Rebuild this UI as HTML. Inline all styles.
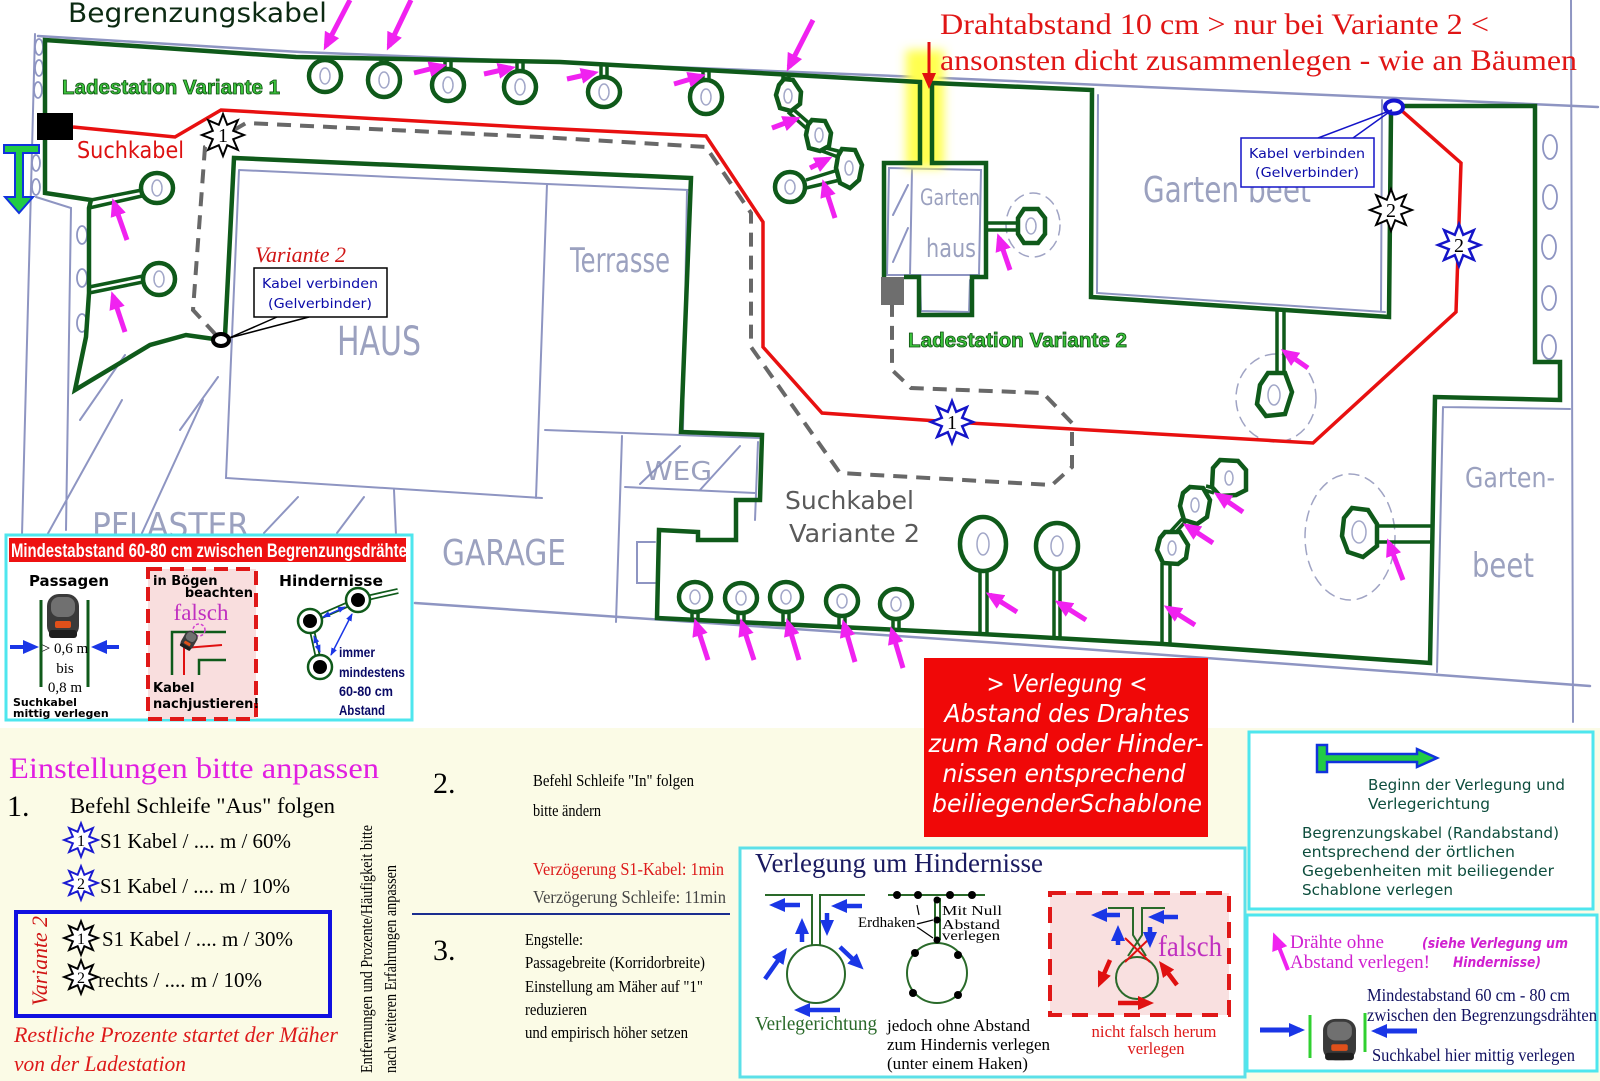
<!DOCTYPE html>
<html><head><meta charset="utf-8">
<style>
html,body{margin:0;padding:0;background:#fff;width:1600px;height:1081px;overflow:hidden}
svg{display:block}
</style></head><body>
<svg xmlns="http://www.w3.org/2000/svg" width="1600" height="1081" viewBox="0 0 1600 1081">
<defs>
<path id="st" d="M0,-21 L4.2,-10.2 L14.85,-14.85 L10.2,-4.2 L21,0 L10.2,4.2 L14.85,14.85 L4.2,10.2 L0,21 L-4.2,10.2 L-14.85,14.85 L-10.2,4.2 L-21,0 L-10.2,-4.2 L-14.85,-14.85 L-4.2,-10.2 Z"/>
<marker id="am" viewBox="0 0 18 16" markerWidth="18" markerHeight="16" refX="13" refY="8" orient="auto" markerUnits="userSpaceOnUse"><path d="M0,0 L18,8 L0,16 z" fill="#f022f0"/></marker>
<marker id="ab" viewBox="0 0 16 14" markerWidth="16" markerHeight="14" refX="11" refY="7" orient="auto" markerUnits="userSpaceOnUse"><path d="M0,0 L16,7 L0,14 z" fill="#1a36e6"/></marker>
<marker id="ar" viewBox="0 0 16 14" markerWidth="16" markerHeight="14" refX="11" refY="7" orient="auto" markerUnits="userSpaceOnUse"><path d="M0,0 L16,7 L0,14 z" fill="#e01010"/></marker>
<marker id="as" viewBox="0 0 8 6" markerWidth="8" markerHeight="6" refX="7" refY="3" orient="auto-start-reverse" markerUnits="userSpaceOnUse"><path d="M0,0 L8,3 L0,6 z" fill="#1a36e6"/></marker>
<g id="mw">
<rect x="1" y="2" width="32" height="44" rx="12" fill="#3a3a3a"/>
<rect x="5" y="5" width="24" height="20" rx="8" fill="#707070"/>
<rect x="9" y="29" width="16" height="7" rx="2" fill="#e0501a"/>
<rect x="3" y="38" width="28" height="8" rx="3" fill="#1e1e1e"/>
</g>
<filter id="bl" x="-50%" y="-20%" width="200%" height="140%"><feGaussianBlur stdDeviation="5"/></filter>
<clipPath id="hc"><rect x="9" y="538" width="397" height="24"/></clipPath>
</defs>

<rect x="0" y="0" width="1600" height="1081" fill="#fff"/>
<rect x="0" y="728" width="1600" height="353" fill="#fbfbe6"/>

<!-- pencil sketch -->
<g fill="none" stroke="#8e95c2" stroke-width="2" stroke-linecap="round">
<path d="M38,36 L300,52 L920,77 L1598,107" stroke-width="2.5"/>
<path d="M35,34 L22,535"/>
<path d="M1571,0 L1573,722"/>
<path d="M415,603 L1000,643 L1590,686" stroke-width="2.5"/>
<path d="M36,197 L71,208 L66,530"/>
<path d="M239,170 L547,184 L689,190 M239,170 L226,478 L542,498 M547,184 L536,498 M687,190 L683,430 M545,430 L760,438"/>
<path d="M622,436 L616,622 M625,487 L755,493 M640,484 L680,446 M700,490 L740,446 M758,442 L755,520"/>
<path d="M655,542 L637,542 L637,583 L655,583"/>
<path d="M394,490 L396,535"/>
<path d="M46,537 L122,400 M142,533 L203,400 M264,533 L298,497 M337,533 L364,497 M180,430 L218,377 M80,420 L125,355"/>
<path d="M889,168 L981,170 L979,275 L887,275 Z M912,170 L910,275 M893,215 L908,185 M893,262 L908,228 M920,278 L921,311 L969,312 L970,280"/>
<path d="M1098,95 L1097,293 L1385,312 M1382,100 L1381,310"/>
<path d="M1443,407 L1570,409 M1443,407 L1437,672"/>
<g stroke-width="1.5" stroke-dasharray="10 7" stroke="#a0a4c4">
<ellipse cx="1033" cy="225" rx="27" ry="32"/>
<ellipse cx="1276" cy="398" rx="40" ry="44"/>
<ellipse cx="1350" cy="537" rx="45" ry="63"/>
</g>
<g stroke-width="1.8">
<ellipse cx="1550" cy="147" rx="7" ry="12"/><ellipse cx="1550" cy="197" rx="7" ry="12"/><ellipse cx="1549" cy="247" rx="7" ry="12"/><ellipse cx="1549" cy="298" rx="7" ry="12"/><ellipse cx="1549" cy="347" rx="7" ry="12"/>
<ellipse cx="39" cy="47" rx="4" ry="8"/><ellipse cx="39" cy="68" rx="4" ry="8"/><ellipse cx="38" cy="90" rx="4" ry="8"/><ellipse cx="36" cy="163" rx="4" ry="8"/><ellipse cx="36" cy="187" rx="4" ry="8"/>
<ellipse cx="82" cy="235" rx="5" ry="9"/><ellipse cx="82" cy="278" rx="5" ry="9"/><ellipse cx="82" cy="323" rx="5" ry="9"/>
</g>
</g>

<!-- handwritten labels -->
<g font-family="DejaVu Sans, Liberation Sans, sans-serif" fill="#8a90b4" fill-opacity="0.85" font-weight="normal">
<text x="337" y="355" font-size="40" textLength="84" lengthAdjust="spacingAndGlyphs">HAUS</text>
<text x="570" y="272" font-size="34" textLength="100" lengthAdjust="spacingAndGlyphs">Terrasse</text>
<text x="920" y="205" font-size="22" textLength="60" lengthAdjust="spacingAndGlyphs">Garten</text>
<text x="926" y="257" font-size="26" textLength="50" lengthAdjust="spacingAndGlyphs">haus</text>
<text x="1143" y="202" font-size="36" textLength="168" lengthAdjust="spacingAndGlyphs">Garten beet</text>
<text x="1465" y="487" font-size="28" textLength="90" lengthAdjust="spacingAndGlyphs">Garten-</text>
<text x="1472" y="577" font-size="34" textLength="62" lengthAdjust="spacingAndGlyphs">beet</text>
<text x="645" y="480" font-size="26" textLength="67" lengthAdjust="spacingAndGlyphs">WEG</text>
<text x="442" y="565" font-size="36" textLength="124" lengthAdjust="spacingAndGlyphs">GARAGE</text>
<text x="92" y="537" font-size="34" textLength="157" lengthAdjust="spacingAndGlyphs">PFLASTER</text>
</g>

<!-- yellow highlight -->
<rect x="906" y="50" width="38" height="118" fill="#ffff50" filter="url(#bl)"/>

<!-- green boundary -->
<g fill="none" stroke="#0f5a1a" stroke-width="4.5" stroke-linejoin="miter">
<path d="M221,340 L186,335 L150,345 L75,390 L86,337 L89,293 L89,208 L91,200 L45,193 L45,40 L296,57 L560,62 L920,82 L920,163 L884,163 L884,277"/>
<path d="M904,277 L919,277 L919,315 L972,315 L972,277 L986,277 L986,163 L932,163 L932,83 L1092,90 L1091,297 L1389,317 L1391,112"/>
<path d="M1398,106 L1535,106 L1535,362 L1560,362 L1560,400 L1435,397 L1430,663 L1163,644 L981,634 L657,618 L659,530 L698,532 L698,540 L736,540 L736,500 L760,500 L762,435 L681,432 L691,178 L234,158 L225,336"/>
</g>
<!-- stubs -->
<g fill="none" stroke="#0f5a1a" stroke-width="3.5">
<path d="M322,57 V61 M328,57 V61"/>
<path d="M381,58 V64 M387,58 V64"/>
<path d="M445,60 V69 M451,60 V69"/>
<path d="M517,61 V71 M523,61 V71"/>
<path d="M601,64 V77 M607,64 V77"/>
<path d="M703,70 V81 M709,70 V81"/>
<path d="M783,74 V81 M789,74 V81"/>
<path d="M91,200 L142,190 M89,208 L142,196"/>
<path d="M89,287 L143,276 M89,293 L143,282"/>
<path d="M986,223 H1019 M986,230 H1019"/>
<path d="M1277,310 V373 M1284,311 V373"/>
<path d="M1432,526 H1376 M1432,542 H1376"/>
<path d="M1162,563 V644 M1170,563 V645"/>
<path d="M980,571 V634 M987,571 V635"/>
<path d="M1054,569 V637 M1060,569 V638"/>
<path d="M692,612 V621 M698,612 V621"/>
<path d="M738,613 V622 M744,613 V622"/>
<path d="M783,612 V624 M789,612 V624"/>
<path d="M839,616 V627 M845,616 V627"/>
<path d="M893,619 V630 M899,619 V630"/>
<path d="M794,110 L810,124 M788,112 L806,128"/>
<path d="M826,148 L842,152 M822,151 L838,157"/>
<path d="M838,170 L806,180 M840,180 L806,188"/>
<path d="M1176,532 L1186,521 M1170,532 L1182,519"/>
<path d="M1204,490 L1214,493 M1206,486 L1214,488"/>
</g>
<!-- obstacles -->
<g fill="#fff" stroke="#0f5a1a" stroke-width="4.5">
<ellipse cx="325" cy="76" rx="16" ry="16"/>
<ellipse cx="384" cy="80" rx="16" ry="17"/>
<ellipse cx="448" cy="85" rx="16" ry="16"/>
<ellipse cx="520" cy="87" rx="16" ry="16"/>
<ellipse cx="604" cy="92" rx="16" ry="15"/>
<ellipse cx="706" cy="97" rx="16" ry="17"/>
<polygon points="784,79 793,80 801,92 800,104 791,111 780,108 776,95 779,85"/>
<polygon points="812,120 825,121 831,133 829,146 820,151 809,148 806,135 808,125"/>
<polygon points="842,149 855,150 862,165 859,180 850,188 840,183 836,168 838,156"/>
<ellipse cx="790" cy="187" rx="15" ry="15"/>
<ellipse cx="157" cy="188" rx="16" ry="15"/>
<ellipse cx="159" cy="279" rx="16" ry="16"/>
<polygon points="1024,209 1038,209 1045,218 1045,234 1038,243 1024,243 1018,234 1018,218"/>
<polygon points="1268,373 1285,373 1292,392 1285,414 1266,416 1257,404 1260,385"/>
<polygon points="1352,508 1368,510 1377,524 1377,546 1363,557 1348,552 1342,536 1344,518"/>
<polygon points="1165,532 1180,532 1188,545 1186,558 1178,564 1163,563 1157,550 1160,538"/>
<polygon points="1190,487 1203,488 1210,500 1207,517 1197,524 1184,520 1180,506 1183,493"/>
<polygon points="1220,460 1238,461 1246,470 1246,490 1236,495 1220,496 1212,487 1213,468"/>
<ellipse cx="983" cy="544" rx="23" ry="27"/>
<ellipse cx="1057" cy="546" rx="21" ry="23"/>
<ellipse cx="695" cy="597" rx="16" ry="15"/>
<ellipse cx="741" cy="598" rx="16" ry="15"/>
<ellipse cx="786" cy="597" rx="16" ry="15"/>
<ellipse cx="842" cy="601" rx="16" ry="15"/>
<ellipse cx="896" cy="604" rx="16" ry="15"/>
</g>
<g fill="none" stroke="#a2a7c8" stroke-width="1.5">
<ellipse cx="325" cy="76" rx="5" ry="8"/><ellipse cx="384" cy="80" rx="5" ry="8"/><ellipse cx="448" cy="85" rx="5" ry="8"/><ellipse cx="520" cy="87" rx="5" ry="8"/><ellipse cx="604" cy="92" rx="5" ry="8"/><ellipse cx="706" cy="97" rx="5" ry="8"/>
<ellipse cx="788" cy="96" rx="4" ry="7"/><ellipse cx="819" cy="135" rx="4" ry="7"/><ellipse cx="849" cy="168" rx="4" ry="7"/><ellipse cx="790" cy="187" rx="5" ry="7"/>
<ellipse cx="157" cy="188" rx="5" ry="8"/><ellipse cx="159" cy="279" rx="5" ry="8"/>
<ellipse cx="1031" cy="226" rx="5" ry="8"/><ellipse cx="1274" cy="395" rx="6" ry="10"/><ellipse cx="1359" cy="532" rx="7" ry="11"/>
<ellipse cx="1172" cy="548" rx="4" ry="7"/><ellipse cx="1195" cy="505" rx="4" ry="7"/><ellipse cx="1229" cy="478" rx="4" ry="7"/>
<ellipse cx="983" cy="544" rx="6" ry="11"/><ellipse cx="1057" cy="546" rx="6" ry="10"/>
<ellipse cx="695" cy="597" rx="5" ry="7"/><ellipse cx="741" cy="598" rx="5" ry="7"/><ellipse cx="786" cy="597" rx="5" ry="7"/><ellipse cx="842" cy="601" rx="5" ry="7"/><ellipse cx="896" cy="604" rx="5" ry="7"/>
</g>

<!-- red search cable -->
<polyline points="73,127 175,137 221,110 540,128 706,136 763,222 763,347 822,413 952,422 1313,443 1456,312 1461,163 1401,110" fill="none" stroke="#e81010" stroke-width="3.5"/>
<!-- gray dashed search cable V2 -->
<polyline points="216,335 193,310 205,147 246,123 540,137 706,147 751,213 751,347 840,473 1052,485 1072,467 1072,423 1043,393 911,388 892,370 892,305" fill="none" stroke="#686868" stroke-width="4" stroke-dasharray="14 9"/>

<!-- charging stations -->
<rect x="37" y="113" width="36" height="27" fill="#000"/>
<rect x="881" y="277" width="23" height="28" fill="#6e6e6e"/>

<!-- stars -->
<g font-family="Liberation Serif, serif" font-size="20" text-anchor="middle">
<use href="#st" transform="translate(223,135)" fill="#fff" stroke="#000" stroke-width="2"/>
<text x="223" y="142">1</text>
<use href="#st" transform="translate(1391,210)" fill="#fff" stroke="#000" stroke-width="2"/>
<text x="1391" y="217">2</text>
<use href="#st" transform="translate(952,422)" fill="#fff" stroke="#1414c8" stroke-width="2.5"/>
<text x="952" y="429">1</text>
<use href="#st" transform="translate(1459,245)" fill="#fff" stroke="#1414c8" stroke-width="2.5"/>
<text x="1459" y="252">2</text>
</g>

<!-- connectors -->
<ellipse cx="221" cy="340" rx="8" ry="6" fill="#fff" stroke="#000" stroke-width="4"/>
<ellipse cx="1394" cy="107" rx="9" ry="6.5" fill="#fff" stroke="#1414d0" stroke-width="4"/>

<!-- callouts -->
<path d="M277,317 L229,338 M309,317 L229,338" stroke="#000" stroke-width="1.5" fill="none"/>
<rect x="254" y="268" width="133" height="49" fill="#fff" stroke="#000" stroke-width="1.5"/>
<path d="M1318,138 L1392,110 M1353,138 L1392,110" stroke="#1414c8" stroke-width="1.5" fill="none"/>
<rect x="1241" y="138" width="133" height="49" fill="#fff" stroke="#1414c8" stroke-width="1.5"/>
<g font-family="DejaVu Sans, Liberation Sans, sans-serif" font-size="13.5" fill="#0a0aa8" text-anchor="middle">
<text x="320" y="288" textLength="116" lengthAdjust="spacingAndGlyphs">Kabel verbinden</text>
<text x="320" y="308" textLength="104" lengthAdjust="spacingAndGlyphs">(Gelverbinder)</text>
<text x="1307" y="158" textLength="116" lengthAdjust="spacingAndGlyphs">Kabel verbinden</text>
<text x="1307" y="177" textLength="104" lengthAdjust="spacingAndGlyphs">(Gelverbinder)</text>
</g>

<!-- T arrow left -->
<polygon points="4,145 39,145 39,153 23,153 23,197 33,197 19,213 5,197 15,197 15,153 4,153" fill="#22cc44" stroke="#1133dd" stroke-width="2"/>

<!-- map labels -->
<text x="68" y="22" font-family="DejaVu Sans, sans-serif" font-size="27" fill="#0c2a12" textLength="259" lengthAdjust="spacingAndGlyphs">Begrenzungskabel</text>
<text x="62" y="94" font-family="Liberation Sans, sans-serif" font-weight="bold" font-size="20" fill="#3cc43c" stroke="#0d5010" stroke-width="0.8" textLength="218" lengthAdjust="spacingAndGlyphs">Ladestation Variante 1</text>
<text x="908" y="347" font-family="Liberation Sans, sans-serif" font-weight="bold" font-size="20" fill="#3cc43c" stroke="#0d5010" stroke-width="0.8" textLength="219" lengthAdjust="spacingAndGlyphs">Ladestation Variante 2</text>
<text x="77" y="158" font-family="DejaVu Sans, sans-serif" font-size="23" fill="#dd1111" textLength="107" lengthAdjust="spacingAndGlyphs">Suchkabel</text>
<text x="255" y="262" font-family="Liberation Serif, serif" font-style="italic" font-size="22" fill="#d01515" textLength="91" lengthAdjust="spacingAndGlyphs">Variante 2</text>
<g font-family="Liberation Serif, serif" font-size="30" fill="#e01515">
<text x="940" y="34" textLength="549" lengthAdjust="spacingAndGlyphs">Drahtabstand 10 cm &gt; nur bei Variante 2 &lt;</text>
<text x="940" y="70" textLength="637" lengthAdjust="spacingAndGlyphs">ansonsten dicht zusammenlegen - wie an Bäumen</text>
</g>
<line x1="929" y1="42" x2="929" y2="84" stroke="#e01010" stroke-width="3" marker-end="url(#ar)"/>
<g font-family="DejaVu Sans, sans-serif" font-size="25" fill="#5a5a5a">
<text x="785" y="509" textLength="129" lengthAdjust="spacingAndGlyphs">Suchkabel</text>
<text x="789" y="542" textLength="131" lengthAdjust="spacingAndGlyphs">Variante 2</text>
</g>

<!-- magenta arrows -->
<g stroke="#f022f0" stroke-width="5" marker-end="url(#am)">
<line x1="350" y1="0" x2="326" y2="46"/>
<line x1="411" y1="0" x2="389" y2="46"/>
<line x1="414" y1="73" x2="442" y2="66"/>
<line x1="484" y1="74" x2="511" y2="68"/>
<line x1="567" y1="79" x2="594" y2="73"/>
<line x1="674" y1="84" x2="701" y2="76"/>
<line x1="813" y1="20" x2="789" y2="67"/>
<line x1="772" y1="128" x2="796" y2="119"/>
<line x1="810" y1="168" x2="828" y2="159"/>
<line x1="835" y1="218" x2="824" y2="184"/>
<line x1="1010" y1="270" x2="999" y2="238"/>
<line x1="127" y1="240" x2="114" y2="203"/>
<line x1="125" y1="332" x2="113" y2="296"/>
<line x1="1308" y1="368" x2="1285" y2="352"/>
<line x1="708" y1="660" x2="696" y2="623"/>
<line x1="754" y1="660" x2="742" y2="623"/>
<line x1="799" y1="660" x2="788" y2="623"/>
<line x1="855" y1="662" x2="844" y2="624"/>
<line x1="903" y1="668" x2="892" y2="631"/>
<line x1="1017" y1="612" x2="990" y2="595"/>
<line x1="1086" y1="620" x2="1059" y2="603"/>
<line x1="1243" y1="512" x2="1218" y2="495"/>
<line x1="1213" y1="543" x2="1187" y2="526"/>
<line x1="1195" y1="625" x2="1168" y2="608"/>
<line x1="1403" y1="580" x2="1389" y2="543"/>
</g>

<!-- legend box 1 -->
<rect x="6" y="535" width="406" height="185" fill="#fff" stroke="#4ee6ee" stroke-width="3"/>
<rect x="9" y="538" width="397" height="24" fill="#ee1111"/>
<text x="11" y="557" clip-path="url(#hc)" font-family="Liberation Sans, sans-serif" font-weight="bold" font-size="19" fill="#fff" textLength="405" lengthAdjust="spacingAndGlyphs">Mindestabstand 60-80 cm zwischen Begrenzungsdrähten</text>
<text x="29" y="586" font-family="DejaVu Sans, sans-serif" font-weight="bold" font-size="15" fill="#000" textLength="80" lengthAdjust="spacingAndGlyphs">Passagen</text>
<path d="M41,600 V687 M88,600 V687" stroke="#0f5a1a" stroke-width="3"/>
<use href="#mw" transform="translate(46,592)"/>
<line x1="10" y1="647" x2="34" y2="647" stroke="#1a36e6" stroke-width="4" marker-end="url(#ab)"/>
<line x1="119" y1="647" x2="96" y2="647" stroke="#1a36e6" stroke-width="4" marker-end="url(#ab)"/>
<g font-family="Liberation Serif, serif" font-size="15" fill="#000" text-anchor="middle">
<text x="65" y="653">&gt; 0,6 m</text>
<text x="65" y="673">bis</text>
<text x="65" y="692">0,8 m</text>
</g>
<g font-family="DejaVu Sans, sans-serif" font-weight="bold" font-size="11" fill="#000">
<text x="13" y="706">Suchkabel</text>
<text x="13" y="717">mittig verlegen</text>
</g>
<rect x="148" y="569" width="108" height="150" fill="#f9dede" stroke="#e01818" stroke-width="4" stroke-dasharray="14 8"/>
<g font-family="DejaVu Sans, sans-serif" font-weight="bold" font-size="13" fill="#000">
<text x="153" y="585">in Bögen</text>
<text x="253" y="597" text-anchor="end">beachten</text>
<text x="153" y="692">Kabel</text>
<text x="153" y="708">nachjustieren!</text>
</g>
<text x="201" y="620" font-family="Liberation Serif, serif" font-size="23" fill="#c030c0" text-anchor="middle">falsch</text>
<path d="M172,675 V632 H226 M199,675 V660 H226" fill="none" stroke="#0f5a1a" stroke-width="2.5"/>
<path d="M184,675 V648 L222,645" fill="none" stroke="#e01010" stroke-width="2"/>
<circle cx="199" cy="630" r="6" fill="none" stroke="#d040d0" stroke-width="1.5" stroke-dasharray="3 2"/>
<use href="#mw" transform="translate(188,628) rotate(30) scale(0.42)"/>
<text x="279" y="586" font-family="DejaVu Sans, sans-serif" font-weight="bold" font-size="15" fill="#000" textLength="104" lengthAdjust="spacingAndGlyphs">Hindernisse</text>
<path d="M358,600 L398,591 M358,600 L310,621 L320,667" stroke="#0f5a1a" stroke-width="6" fill="none"/>
<path d="M358,600 L398,591 M358,600 L310,621 L320,667" stroke="#fff" stroke-width="2.5" fill="none"/>
<g fill="#fff" stroke="#0f5a1a" stroke-width="2.5">
<circle cx="358" cy="600" r="12"/><circle cx="310" cy="621" r="12"/><circle cx="320" cy="667" r="12"/>
</g>
<circle cx="358" cy="600" r="7"/><circle cx="310" cy="621" r="7"/><circle cx="320" cy="667" r="7"/>
<g stroke="#1a36e6" stroke-width="1.5" marker-start="url(#as)" marker-end="url(#as)">
<line x1="323" y1="617" x2="345" y2="607"/>
<line x1="314" y1="636" x2="320" y2="652"/>
<line x1="352" y1="614" x2="331" y2="655"/>
</g>
<g font-family="Liberation Sans, sans-serif" font-weight="bold" font-size="14" fill="#0a0a66">
<text x="339" y="657" textLength="36" lengthAdjust="spacingAndGlyphs">immer</text>
<text x="339" y="677" textLength="66" lengthAdjust="spacingAndGlyphs">mindestens</text>
<text x="339" y="696" textLength="54" lengthAdjust="spacingAndGlyphs">60-80 cm</text>
<text x="339" y="715" textLength="46" lengthAdjust="spacingAndGlyphs">Abstand</text>
</g>

<!-- settings -->
<g font-family="Liberation Serif, serif">
<text x="9" y="778" font-size="30" fill="#e11ee1" textLength="370" lengthAdjust="spacingAndGlyphs">Einstellungen bitte anpassen</text>
<text x="7" y="816" font-size="30" fill="#000">1.</text>
<text x="70" y="813" font-size="22" fill="#000" textLength="265" lengthAdjust="spacingAndGlyphs">Befehl Schleife "Aus" folgen</text>
<text x="100" y="848" font-size="21" fill="#000" textLength="191" lengthAdjust="spacingAndGlyphs">S1 Kabel / .... m / 60%</text>
<text x="100" y="893" font-size="21" fill="#000" textLength="190" lengthAdjust="spacingAndGlyphs">S1 Kabel / .... m / 10%</text>
<text x="102" y="946" font-size="21" fill="#000" textLength="191" lengthAdjust="spacingAndGlyphs">S1 Kabel / .... m / 30%</text>
<text x="98" y="987" font-size="21" fill="#000" textLength="164" lengthAdjust="spacingAndGlyphs">rechts / .... m / 10%</text>
<text x="14" y="1042" font-size="22" font-style="italic" fill="#dd1a1a" textLength="324" lengthAdjust="spacingAndGlyphs">Restliche Prozente  startet der Mäher</text>
<text x="14" y="1071" font-size="22" font-style="italic" fill="#dd1a1a" textLength="172" lengthAdjust="spacingAndGlyphs">von der Ladestation</text>
<text transform="translate(47,1006) rotate(-90)" font-size="22" font-style="italic" fill="#d01515" textLength="90" lengthAdjust="spacingAndGlyphs">Variante 2</text>
<text transform="translate(372,1073) rotate(-90)" font-size="17" fill="#000" textLength="248" lengthAdjust="spacingAndGlyphs">Entfernungen und Prozente/Häufigkeit bitte</text>
<text transform="translate(396,1073) rotate(-90)" font-size="17" fill="#000" textLength="208" lengthAdjust="spacingAndGlyphs">nach weiteren Erfahrungen anpassen</text>
<text x="433" y="793" font-size="30" fill="#000">2.</text>
<text x="533" y="786" font-size="17" fill="#000" textLength="161" lengthAdjust="spacingAndGlyphs">Befehl Schleife "In" folgen</text>
<text x="533" y="816" font-size="17" fill="#000" textLength="68" lengthAdjust="spacingAndGlyphs">bitte ändern</text>
<text x="533" y="875" font-size="18" fill="#dd1a1a" textLength="191" lengthAdjust="spacingAndGlyphs">Verzögerung S1-Kabel: 1min</text>
<text x="533" y="903" font-size="18" fill="#444" textLength="193" lengthAdjust="spacingAndGlyphs">Verzögerung Schleife: 11min</text>
<text x="433" y="960" font-size="30" fill="#000">3.</text>
<text x="525" y="945" font-size="17" fill="#000" textLength="58" lengthAdjust="spacingAndGlyphs">Engstelle:</text>
<text x="525" y="968" font-size="17" fill="#000" textLength="180" lengthAdjust="spacingAndGlyphs">Passagebreite (Korridorbreite)</text>
<text x="525" y="992" font-size="17" fill="#000" textLength="178" lengthAdjust="spacingAndGlyphs">Einstellung am Mäher auf "1"</text>
<text x="525" y="1015" font-size="17" fill="#000" textLength="62" lengthAdjust="spacingAndGlyphs">reduzieren</text>
<text x="525" y="1038" font-size="17" fill="#000" textLength="163" lengthAdjust="spacingAndGlyphs">und empirisch höher setzen</text>
</g>
<line x1="412" y1="914" x2="730" y2="914" stroke="#1a2d8f" stroke-width="2"/>
<rect x="16" y="912" width="314" height="104" fill="none" stroke="#1010e0" stroke-width="4"/>
<g font-family="Liberation Serif, serif" font-size="16" text-anchor="middle">
<use href="#st" transform="translate(81,840) scale(0.8)" fill="#fff" stroke="#1a1ad0" stroke-width="2.5"/>
<text x="81" y="846">1</text>
<use href="#st" transform="translate(81,883) scale(0.8)" fill="#fff" stroke="#1a1ad0" stroke-width="2.5"/>
<text x="81" y="889">2</text>
<use href="#st" transform="translate(81,938) scale(0.8)" fill="#fff" stroke="#000" stroke-width="2.5"/>
<text x="81" y="944">1</text>
<use href="#st" transform="translate(81,977) scale(0.8)" fill="#fff" stroke="#000" stroke-width="2.5"/>
<text x="81" y="983">2</text>
</g>

<!-- red box -->
<rect x="924" y="658" width="284" height="179" fill="#f00808"/>
<g font-family="DejaVu Sans, sans-serif" font-style="italic" font-size="25" fill="#fff" text-anchor="middle">
<text x="1067" y="692" textLength="161" lengthAdjust="spacingAndGlyphs">&gt; Verlegung &lt;</text>
<text x="1067" y="722" textLength="245" lengthAdjust="spacingAndGlyphs">Abstand des Drahtes</text>
<text x="1066" y="752" textLength="275" lengthAdjust="spacingAndGlyphs">zum Rand oder Hinder-</text>
<text x="1064" y="782" textLength="243" lengthAdjust="spacingAndGlyphs">nissen entsprechend</text>
<text x="1067" y="812" textLength="270" lengthAdjust="spacingAndGlyphs">beiliegenderSchablone</text>
</g>

<!-- Verlegung um Hindernisse -->
<rect x="740" y="848" width="505" height="229" fill="#fff" stroke="#5ce0e8" stroke-width="3"/>
<text x="755" y="872" font-family="Liberation Serif, serif" font-size="27" fill="#1a1a60" textLength="288" lengthAdjust="spacingAndGlyphs">Verlegung um Hindernisse</text>
<g fill="none" stroke="#2a6a2a" stroke-width="2">
<path d="M765,895 H812 V945 M865,895 H820 V945"/>
<circle cx="816" cy="974" r="29"/>
<path d="M888,895 H985"/>
<path d="M935,898 V940 M940,898 V940"/>
<circle cx="937" cy="973" r="30"/>
</g>
<g stroke="#1a36e6" stroke-width="4.5" marker-end="url(#ab)">
<line x1="800" y1="905" x2="774" y2="905"/>
<line x1="862" y1="906" x2="836" y2="906"/>
<line x1="802" y1="942" x2="802" y2="923"/>
<line x1="827" y1="913" x2="827" y2="931"/>
<line x1="765" y1="979" x2="784" y2="952"/>
<line x1="840" y1="947" x2="860" y2="966"/>
<line x1="840" y1="1010" x2="799" y2="1010"/>
</g>
<g fill="#000">
<circle cx="897" cy="895" r="4"/><circle cx="918" cy="895" r="4"/><circle cx="950" cy="895" r="4"/><circle cx="972" cy="895" r="4"/>
<circle cx="937" cy="900" r="3.5"/><circle cx="937" cy="920" r="3.5"/><circle cx="937" cy="940" r="3.5"/>
<circle cx="915" cy="953" r="4"/><circle cx="958" cy="955" r="4"/><circle cx="913" cy="993" r="4"/><circle cx="958" cy="995" r="4"/>
</g>
<path d="M917,924 L933,920 M917,927 L933,938 M917,905 L919,915" stroke="#000" stroke-width="1.2" fill="none"/>
<g font-family="Liberation Serif, serif" fill="#000">
<text x="858" y="927" font-size="15">Erdhaken</text>
<text x="942" y="915" font-size="14" textLength="60" lengthAdjust="spacingAndGlyphs">Mit Null</text>
<text x="942" y="929" font-size="14" textLength="58" lengthAdjust="spacingAndGlyphs">Abstand</text>
<text x="942" y="940" font-size="14" textLength="58" lengthAdjust="spacingAndGlyphs">verlegen</text>
<text x="887" y="1031" font-size="17" textLength="143" lengthAdjust="spacingAndGlyphs">jedoch ohne Abstand</text>
<text x="887" y="1050" font-size="17" textLength="163" lengthAdjust="spacingAndGlyphs">zum Hindernis verlegen</text>
<text x="887" y="1069" font-size="17" textLength="141" lengthAdjust="spacingAndGlyphs">(unter einem Haken)</text>
<text x="755" y="1030" font-size="20" fill="#2a6a2a" textLength="122" lengthAdjust="spacingAndGlyphs">Verlegerichtung</text>
</g>
<rect x="1050" y="893" width="179" height="122" fill="#f9e0e0" stroke="#e01818" stroke-width="4" stroke-dasharray="16 10"/>
<g fill="none" stroke="#2a6a2a" stroke-width="2">
<path d="M1108,908 H1133 V935 L1146,956 M1165,908 H1142 V935 L1128,956"/>
<circle cx="1137" cy="978" r="21"/>
</g>
<path d="M1125,938 L1150,962 M1150,938 L1125,962" stroke="#e01010" stroke-width="2"/>
<g stroke="#1a36e6" stroke-width="4.5" marker-end="url(#ab)">
<line x1="1120" y1="915" x2="1096" y2="915"/>
<line x1="1178" y1="917" x2="1153" y2="917"/>
<line x1="1118" y1="945" x2="1118" y2="930"/>
<line x1="1150" y1="927" x2="1150" y2="943"/>
</g>
<g stroke="#e01010" stroke-width="4.5" marker-end="url(#ar)">
<line x1="1110" y1="960" x2="1100" y2="983"/>
<line x1="1177" y1="985" x2="1162" y2="965"/>
<line x1="1118" y1="1003" x2="1149" y2="1003"/>
</g>
<text x="1158" y="956" font-family="Liberation Serif, serif" font-size="30" fill="#c030c0" textLength="64" lengthAdjust="spacingAndGlyphs">falsch</text>
<g font-family="Liberation Serif, serif" font-size="17" fill="#dd1a1a" text-anchor="middle">
<text x="1154" y="1037" textLength="125" lengthAdjust="spacingAndGlyphs">nicht falsch herum</text>
<text x="1156" y="1054" textLength="57" lengthAdjust="spacingAndGlyphs">verlegen</text>
</g>

<!-- right upper box -->
<rect x="1249" y="732" width="344" height="177" fill="#fff" stroke="#4ee6ee" stroke-width="3"/>
<polygon points="1317,745 1327,745 1327,754 1417,754 1417,749 1437,758 1417,767 1417,762 1327,762 1327,772 1317,772" fill="#22cc44" stroke="#1133dd" stroke-width="2.5"/>
<g font-family="DejaVu Sans, sans-serif" font-size="15.5" fill="#0d4d3d">
<text x="1368" y="790" textLength="197" lengthAdjust="spacingAndGlyphs">Beginn der Verlegung und</text>
<text x="1368" y="809" textLength="122" lengthAdjust="spacingAndGlyphs">Verlegerichtung</text>
<text x="1302" y="838" textLength="257" lengthAdjust="spacingAndGlyphs">Begrenzungskabel (Randabstand)</text>
<text x="1302" y="857" textLength="213" lengthAdjust="spacingAndGlyphs">entsprechend der örtlichen</text>
<text x="1302" y="876" textLength="252" lengthAdjust="spacingAndGlyphs">Gegebenheiten mit beiliegender</text>
<text x="1302" y="895" textLength="151" lengthAdjust="spacingAndGlyphs">Schablone verlegen</text>
</g>

<!-- right lower box -->
<rect x="1247" y="915" width="350" height="156" fill="#fff" stroke="#4ee6ee" stroke-width="3"/>
<line x1="1288" y1="970" x2="1275" y2="937" stroke="#f022f0" stroke-width="4" marker-end="url(#am)"/>
<g font-family="Liberation Serif, serif" font-size="19" fill="#d020d0">
<text x="1290" y="948" textLength="94" lengthAdjust="spacingAndGlyphs">Drähte ohne</text>
<text x="1290" y="968" textLength="140" lengthAdjust="spacingAndGlyphs">Abstand verlegen!</text>
</g>
<g font-family="DejaVu Sans, sans-serif" font-size="14" font-style="italic" font-weight="bold" fill="#d020d0">
<text x="1422" y="948" textLength="146" lengthAdjust="spacingAndGlyphs">(siehe Verlegung um</text>
<text x="1453" y="967" textLength="88" lengthAdjust="spacingAndGlyphs">Hindernisse)</text>
</g>
<g font-family="Liberation Serif, serif" font-size="18" fill="#101060">
<text x="1367" y="1001" textLength="203" lengthAdjust="spacingAndGlyphs">Mindestabstand 60 cm - 80 cm</text>
<text x="1367" y="1021" textLength="230" lengthAdjust="spacingAndGlyphs">zwischen den Begrenzungsdrähten</text>
<text x="1372" y="1061" textLength="203" lengthAdjust="spacingAndGlyphs">Suchkabel hier mittig verlegen</text>
</g>
<path d="M1310,1015 V1058 M1365,1013 V1052" stroke="#30d030" stroke-width="3"/>
<use href="#mw" transform="translate(1322,1017) scale(1.03,0.94)"/>
<line x1="1260" y1="1030" x2="1300" y2="1030" stroke="#1a36e6" stroke-width="5" marker-end="url(#ab)"/>
<line x1="1417" y1="1031" x2="1376" y2="1031" stroke="#1a36e6" stroke-width="5" marker-end="url(#ab)"/>
</svg>
</body></html>
